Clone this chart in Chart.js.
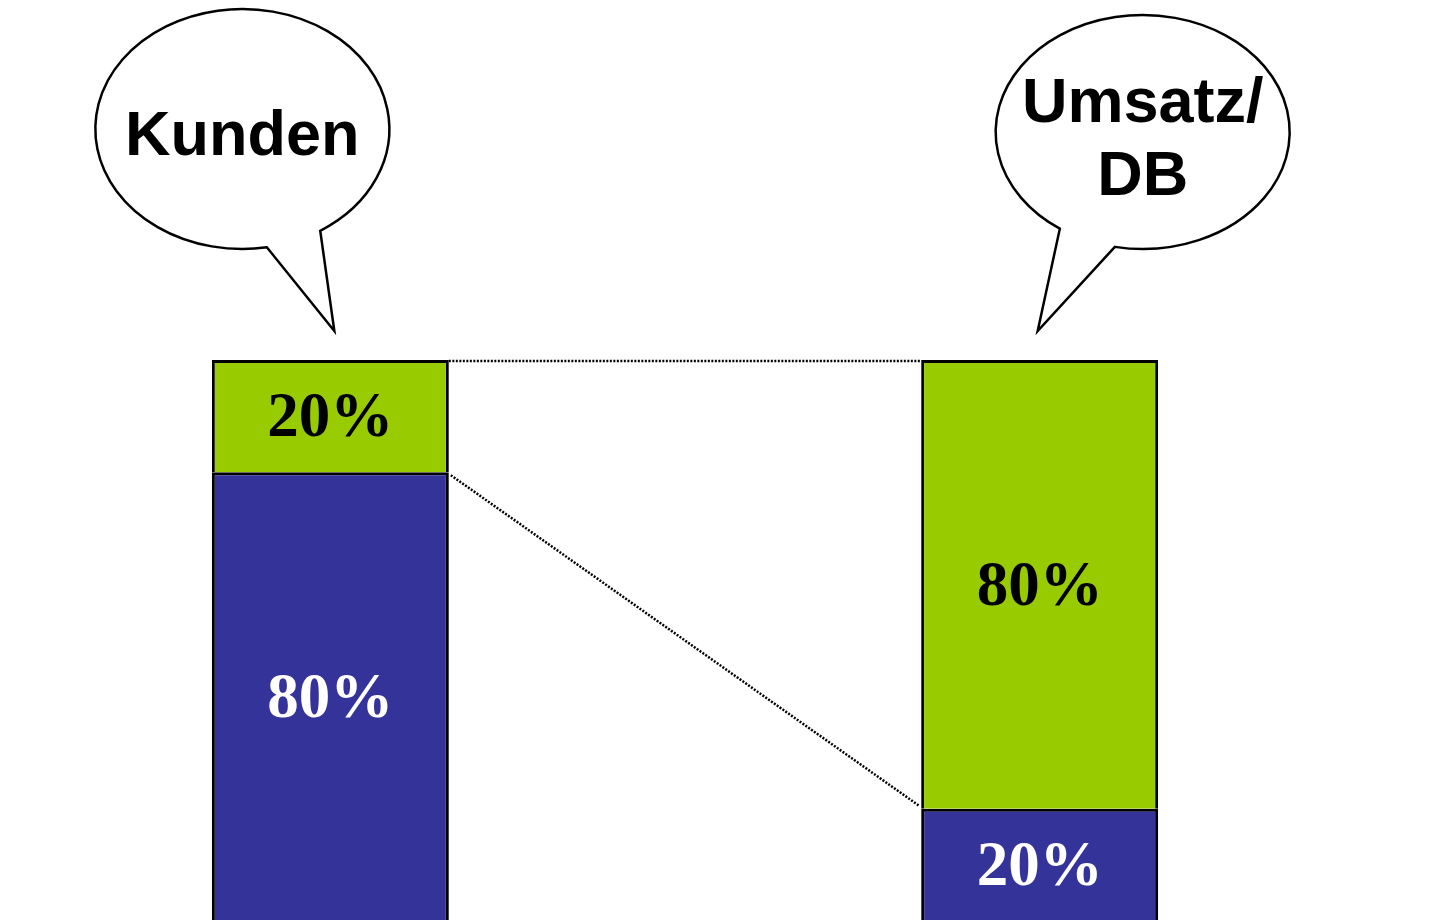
<!DOCTYPE html>
<html>
<head>
<meta charset="utf-8">
<script src="https://cdn.jsdelivr.net/npm/chart.js@4.4.1/dist/chart.umd.min.js"></script>
<style>
  html, body { margin: 0; padding: 0; background: #fff; overflow: hidden; }
  canvas { display: block; }
</style>
</head>
<body>
<canvas id="chart" width="1431" height="921"></canvas>
<script>
// Daten
const kategorien = ['Kunden', '', 'Umsatz/DB'];
const anteilBlau = [80, null, 20];   // untere Segmente
const anteilGruen = [20, null, 80];  // obere Segmente
const sprechblasen = [
  { bar: 0, zeilen: ['Kunden'] },
  { bar: 2, zeilen: ['Umsatz/', 'DB'] }
];

const BLAU = '#333399';
const GRUEN = '#99cc00';
const RAND = { top: 3, left: 3, right: 3, bottom: 0 };

// Prozentwerte in die Segmente schreiben
const wertePlugin = {
  id: 'werte',
  afterDatasetsDraw(chart) {
    const ctx = chart.ctx;
    ctx.save();
    ctx.font = 'bold 63px "Liberation Serif", "Times New Roman", serif';
    ctx.textAlign = 'center';
    ctx.textBaseline = 'middle';
    chart.data.datasets.forEach((ds, di) => {
      chart.getDatasetMeta(di).data.forEach((el, i) => {
        if (ds.data[i] == null) return;
        ctx.fillStyle = di === 0 ? '#ffffff' : '#000000';
        ctx.fillText(ds.data[i] + '%', el.x, (el.y + el.base) / 2 + 4);
      });
    });
    ctx.restore();
  }
};

// gepunktete Verbindungslinien zwischen den Balken
const linienPlugin = {
  id: 'linien',
  afterDatasetsDraw(chart) {
    const ctx = chart.ctx;
    const blau = chart.getDatasetMeta(0).data;
    const gruen = chart.getDatasetMeta(1).data;
    const l = 0, r = 2;
    ctx.save();
    ctx.strokeStyle = '#000';
    ctx.lineWidth = 2.5;
    ctx.setLineDash([2, 1.5]);
    ctx.beginPath();
    ctx.moveTo(gruen[l].x + gruen[l].width / 2, gruen[l].y + 1);
    ctx.lineTo(gruen[r].x - gruen[r].width / 2, gruen[r].y + 1);
    ctx.moveTo(blau[l].x + blau[l].width / 2 + 2, blau[l].y + 3);
    ctx.lineTo(blau[r].x - blau[r].width / 2 - 2, blau[r].y - 3);
    ctx.stroke();
    ctx.restore();
  }
};

// Sprechblasen über den Balken
const blasenPlugin = {
  id: 'blasen',
  afterDraw(chart) {
    const ctx = chart.ctx;
    const top = chart.chartArea.top;
    const els = chart.getDatasetMeta(1).data;
    const formen = [
      { dx: -88, dy: -231, rx: 147, ry: 120, a1: 80.4, a2: 58, tipDx: 4, base: 155 },
      { dx: 103, dy: -228, rx: 147, ry: 117, a1: 124.3, a2: 100.9, tipDx: -2, base: 122 }
    ];
    sprechblasen.forEach((b, k) => {
      const f = formen[k];
      const bx = els[b.bar].x;
      const cx = bx + f.dx, cy = top + f.dy;
      ctx.save();
      ctx.beginPath();
      ctx.ellipse(cx, cy, f.rx, f.ry, 0, f.a1 * Math.PI / 180, f.a2 * Math.PI / 180, false);
      ctx.lineTo(bx + f.tipDx, top - 29);
      ctx.closePath();
      ctx.fillStyle = '#fff';
      ctx.fill();
      ctx.lineWidth = 2.5;
      ctx.strokeStyle = '#000';
      ctx.lineJoin = 'miter';
      ctx.stroke();
      ctx.fillStyle = '#000';
      ctx.font = 'bold 63px "Liberation Sans", Arial, sans-serif';
      ctx.textAlign = 'center';
      ctx.textBaseline = 'alphabetic';
      b.zeilen.forEach((z, j) => {
        ctx.fillText(z, cx, f.base + j * 73);
      });
      ctx.restore();
    });
  }
};

new Chart(document.getElementById('chart'), {
  type: 'bar',
  data: {
    labels: kategorien,
    datasets: [
      {
        label: 'blau',
        data: anteilBlau,
        backgroundColor: BLAU,
        borderColor: '#000',
        borderWidth: RAND,
        borderSkipped: false,
        inflateAmount: 0,
        barThickness: 237
      },
      {
        label: 'gruen',
        data: anteilGruen,
        backgroundColor: GRUEN,
        borderColor: '#000',
        borderWidth: RAND,
        borderSkipped: false,
        inflateAmount: 0,
        barThickness: 237
      }
    ]
  },
  options: {
    responsive: false,
    animation: false,
    devicePixelRatio: 1,
    layout: { padding: { top: 360, left: 153, right: 214, bottom: 0 } },
    plugins: {
      legend: { display: false },
      tooltip: { enabled: false }
    },
    scales: {
      x: { stacked: true, display: false },
      y: { stacked: true, display: false, min: 0, max: 100 }
    }
  },
  plugins: [wertePlugin, linienPlugin, blasenPlugin]
});
</script>
</body>
</html>
